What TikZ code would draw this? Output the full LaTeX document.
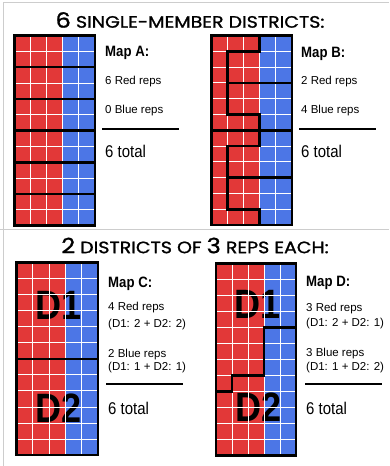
\documentclass[tikz,border=0pt]{standalone}
\usepackage{fontspec}
\setmainfont{Liberation Sans}
\newfontfamily\cond{Liberation Sans}[FakeStretch=0.88]
\newfontfamily\headfont{Poppins}[FakeStretch=1.15, FakeBold=1.2]
\definecolor{mapred}{RGB}{226,56,56}
\definecolor{mapblue}{RGB}{76,118,230}
\definecolor{framegray}{RGB}{205,205,205}
\tikzset{
  cellgrid/.style={white, line width=0.9pt},
  border/.style={black, line width=2.5pt, line join=miter, line cap=rect},
  txt/.style={anchor=west, inner sep=0pt, font=\fontsize{11.5}{12}\selectfont},
  maptitle/.style={anchor=west, inner sep=0pt, font=\cond\bfseries\fontsize{15}{16}\selectfont},
  total/.style={anchor=west, inner sep=0pt, font=\cond\fontsize{17}{18}\selectfont},
  bigd/.style={inner sep=0pt, font=\cond\bfseries\fontsize{41}{41}\selectfont},
  head/.style={inner sep=0pt, font=\headfont\fontsize{16.5}{17}\selectfont},
  rule/.style={black, line width=1.8pt}
}
\newcommand\mapfill{\fill[mapred] (0,0) rectangle (3,12); \fill[mapblue] (3,0) rectangle (5,12);}
\newcommand\mapgridlines{%
  \foreach \i in {1,...,4} {\draw[cellgrid] (\i,0) -- (\i,12);}
  \foreach \j in {1,...,11} {\draw[cellgrid] (0,\j) -- (5,\j);}}
\newcommand\mapframe{\draw[border] (0,0) rectangle (5,12);}
\begin{document}
\begin{tikzpicture}[x=1pt, y=-1pt]
\useasboundingbox (0,0) rectangle (389,466);
\fill[white] (0,0) rectangle (389,466);
% frame lines
\draw[framegray, line width=1pt] (3,466) -- (3,2) -- (389,2);
\draw[framegray, line width=1pt] (0,229.5) -- (389,229.5);

% headings
\node[head] (h1) at (190,20) {{\fontsize{21}{21}\selectfont 6} SINGLE-MEMBER DISTRICTS:};
\node[head] (h2) at (195,245.5) {{\fontsize{21}{21}\selectfont 2} DISTRICTS OF {\fontsize{21}{21}\selectfont 3} REPS EACH:};

% Map A
\begin{scope}[shift={(14.5pt,-35.5pt)}, x=16.1pt, y=-15.85pt]
  \mapfill \mapgridlines
  \foreach \j in {2,4,6,8,10} {\draw[border] (0,\j) -- (5,\j);}
  \mapframe
\end{scope}
\node[maptitle] (ta) at (105,53) {Map A:};
\node[txt] (ra) at (105,82) {6 Red reps};
\node[txt] (ba) at (105,111) {0 Blue reps};
\draw[rule] (102,129) -- (179,129);
\node[total] (sa) at (105,151) {6 total};

% Map B
\begin{scope}[shift={(211.5pt,-35.5pt)}, x=16.05pt, y=-15.8pt]
  \mapfill \mapgridlines
  \draw[border] (3,0) -- (3,1) -- (1,1) -- (1,5) -- (3,5) -- (3,6);
  \draw[border] (1,3) -- (5,3);
  \draw[border] (0,6) -- (5,6);
  \draw[border] (3,6) -- (3,7) -- (1,7) -- (1,11) -- (3,11) -- (3,12);
  \draw[border] (1,9) -- (5,9);
  \mapframe
\end{scope}
\node[maptitle] (tb) at (301,54) {Map B:};
\node[txt] (rb) at (301,82) {2 Red reps};
\node[txt] (bb) at (301,111) {4 Blue reps};
\draw[rule] (299,129) -- (376,129);
\node[total] (sb) at (301,151) {6 total};

% Map C
\begin{scope}[shift={(16.5pt,-262.5pt)}, x=16.3pt, y=-16.05pt]
  \mapfill
  \node[bigd] (c1) at (2.6,2.67) {D1};
  \node[bigd] (c2) at (2.6,9.07) {D2};
  \mapgridlines
  \draw[border] (0,6) -- (5,6);
  \mapframe
\end{scope}
\node[maptitle] (tc) at (108,283.5) {Map C:};
\node[txt] (rc) at (108,308) {4 Red reps};
\node[txt] (rcd) at (108,325) {(D1: 2 + D2: 2)};
\node[txt] (bc) at (108,354.5) {2 Blue reps};
\node[txt] (bcd) at (108,368) {(D1: 1 + D2: 1)};
\draw[rule] (106,384) -- (183,384);
\node[total] (sc) at (108,408) {6 total};

% Map D
\begin{scope}[shift={(216pt,-263.3pt)}, x=16pt, y=-16pt]
  \mapfill
  \node[bigd] (d1) at (2.58,2.54) {D1};
  \node[bigd] (d2) at (2.67,8.98) {D2};
  \mapgridlines
  \draw[border] (5,4) -- (3,4) -- (3,7) -- (1,7) -- (1,8) -- (0,8);
  \mapframe
\end{scope}
\node[maptitle] (td) at (306,283) {Map D:};
\node[txt] (rd) at (306,308.5) {3 Red reps};
\node[txt] (rdd) at (306,324) {(D1: 2 + D2: 1)};
\node[txt] (bd) at (306,354) {3 Blue reps};
\node[txt] (bdd) at (306,368) {(D1: 1 + D2: 2)};
\draw[rule] (305,384) -- (382,384);
\node[total] (sd) at (306,408) {6 total};
\end{tikzpicture}
\end{document}
